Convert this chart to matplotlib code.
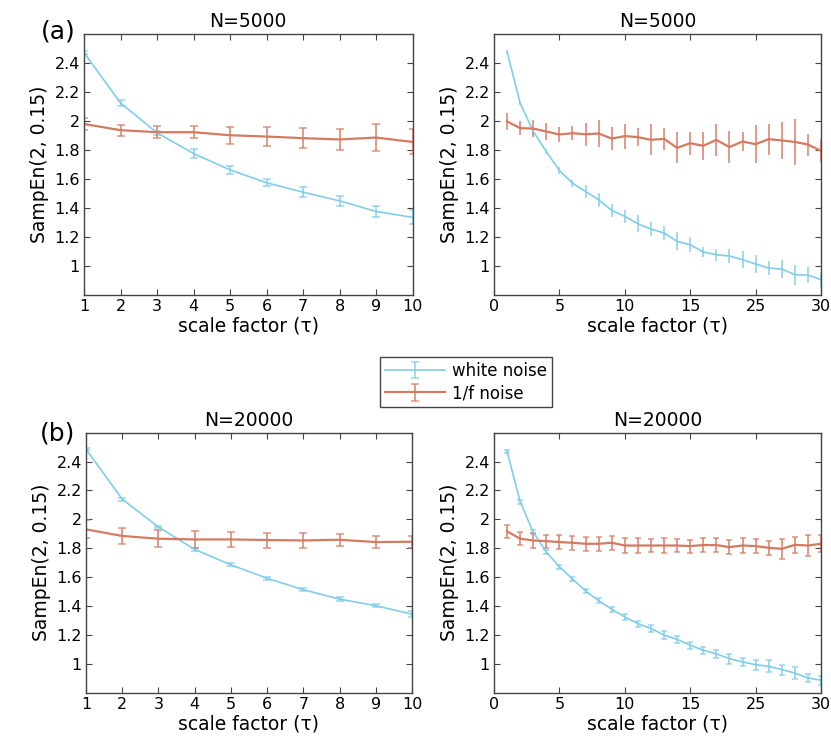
import matplotlib
matplotlib.use('Agg')
import matplotlib.pyplot as plt
import numpy as np

plt.rcParams['font.family'] = ['DejaVu Sans']

blue = '#80cdea'
red = '#d47a60'

# (a) N=5000, tau = 1..10
tau10 = np.arange(1, 11)
a_white_10 = [2.474, 2.126, 1.92, 1.777, 1.664, 1.575, 1.51, 1.45, 1.377, 1.336]
a_white_10_err = [0.01, 0.023, 0.015, 0.034, 0.026, 0.025, 0.034, 0.035, 0.038, 0.048]
a_pink_10 = [1.981, 1.938, 1.924, 1.924, 1.903, 1.894, 1.883, 1.874, 1.887, 1.857]
a_pink_10_err = [0.04, 0.037, 0.04, 0.04, 0.06, 0.064, 0.068, 0.074, 0.095, 0.086]

# (a) N=5000, tau = 1..25
tau25 = np.arange(1, 26)
a_white_25 = [2.48, 2.124, 1.93, 1.79, 1.66, 1.572, 1.515, 1.457, 1.384, 1.343,
              1.292, 1.255, 1.228, 1.17, 1.147, 1.097, 1.078, 1.069, 1.044, 1.014,
              0.986, 0.979, 0.94, 0.938, 0.906]
a_white_25_err = [0.01, 0.012, 0.015, 0.018, 0.025, 0.025, 0.042, 0.046, 0.046, 0.046,
                  0.06, 0.05, 0.048, 0.062, 0.053, 0.035, 0.043, 0.046, 0.06, 0.063,
                  0.046, 0.061, 0.069, 0.057, 0.05]
a_pink_25 = [1.998, 1.952, 1.949, 1.929, 1.908, 1.917, 1.91, 1.915, 1.88, 1.897,
             1.89, 1.871, 1.878, 1.816, 1.848, 1.83, 1.871, 1.821, 1.86, 1.841,
             1.876, 1.867, 1.857, 1.839, 1.795]
a_pink_25_err = [0.057, 0.046, 0.06, 0.062, 0.055, 0.05, 0.08, 0.094, 0.078, 0.087,
                 0.063, 0.107, 0.075, 0.106, 0.078, 0.098, 0.109, 0.109, 0.064, 0.133,
                 0.107, 0.128, 0.16, 0.076, 0.08]

# (b) N=20000, tau = 1..10
b_white_10 = [2.486, 2.14, 1.947, 1.792, 1.685, 1.592, 1.513, 1.448, 1.402, 1.344]
b_white_10_err = [0.008, 0.01, 0.01, 0.012, 0.01, 0.012, 0.012, 0.014, 0.012, 0.02]
b_pink_10 = [1.931, 1.885, 1.866, 1.861, 1.861, 1.857, 1.854, 1.859, 1.843, 1.845]
b_pink_10_err = [0.063, 0.058, 0.058, 0.058, 0.052, 0.052, 0.049, 0.043, 0.044, 0.04]

# (b) N=20000, tau = 1..25
b_white_25 = [2.47, 2.121, 1.912, 1.773, 1.673, 1.587, 1.505, 1.436, 1.378, 1.324,
              1.278, 1.245, 1.199, 1.169, 1.129, 1.094, 1.069, 1.036, 1.013, 0.994,
              0.983, 0.96, 0.936, 0.902, 0.886]
b_white_25_err = [0.008, 0.012, 0.012, 0.012, 0.014, 0.015, 0.015, 0.018, 0.018, 0.02,
                  0.02, 0.025, 0.025, 0.022, 0.025, 0.025, 0.028, 0.035, 0.03, 0.035,
                  0.04, 0.035, 0.04, 0.03, 0.03]
b_pink_25 = [1.917, 1.866, 1.854, 1.849, 1.843, 1.838, 1.831, 1.831, 1.838, 1.819,
             1.819, 1.819, 1.819, 1.819, 1.815, 1.822, 1.822, 1.808, 1.819, 1.815,
             1.803, 1.796, 1.824, 1.819, 1.831]
b_pink_25_err = [0.046, 0.046, 0.055, 0.045, 0.05, 0.05, 0.05, 0.05, 0.05, 0.05,
                 0.05, 0.045, 0.055, 0.048, 0.045, 0.05, 0.05, 0.05, 0.055, 0.05,
                 0.05, 0.07, 0.055, 0.07, 0.06]

yticks = [1, 1.2, 1.4, 1.6, 1.8, 2, 2.2, 2.4]
ytick_labels = ['1', '1.2', '1.4', '1.6', '1.8', '2', '2.2', '2.4']
xticks25 = [0, 5, 10, 15, 20, 25]
xtick_labels25 = ['0', '5', '10', '15', '25', '30']

fig = plt.figure(figsize=(8.31, 7.42), dpi=100)

W, H = 831, 742
def add_ax(l, r, t, b):
    return fig.add_axes([l / W, 1 - b / H, (r - l) / W, (b - t) / H])

ax_tl = add_ax(84, 412.5, 34.3, 295)
ax_tr = add_ax(494, 821, 34.3, 295)
ax_bl = add_ax(86, 412, 432.7, 692.7)
ax_br = add_ax(494, 821, 432.7, 692.7)


def draw(ax, x, w, we, p, pe, cap, title):
    hw = ax.errorbar(x, w, yerr=we, color=blue, ecolor=(0.5, 0.8, 0.92, 0.8),
                     lw=1.2, elinewidth=1.3, capsize=cap, capthick=1.1)
    hp = ax.errorbar(x, p, yerr=pe, color=red, ecolor=(0.83, 0.48, 0.38, 0.8),
                     lw=1.6, elinewidth=1.3, capsize=cap, capthick=1.1)
    ax.set_ylim(0.8, 2.6)
    ax.set_yticks(yticks)
    ax.set_yticklabels(ytick_labels)
    ax.set_title(title, fontsize=13.5, pad=5)
    ax.set_xlabel('scale factor (\u03c4)', fontsize=13.5, labelpad=2)
    ax.set_ylabel('SampEn(2, 0.15)', fontsize=13.5, labelpad=4)
    ax.tick_params(direction='in', top=True, right=True, length=4,
                   labelsize=11.5, color='#444444', pad=3)
    for s in ax.spines.values():
        s.set_color('#444444')
        s.set_linewidth(1.0)
    return hw, hp


hw, hp = draw(ax_tl, tau10, a_white_10, a_white_10_err, a_pink_10, a_pink_10_err, 3, 'N=5000')
ax_tl.set_xlim(1, 10)
ax_tl.set_xticks(tau10)

draw(ax_tr, tau25, a_white_25, a_white_25_err, a_pink_25, a_pink_25_err, 0, 'N=5000')
ax_tr.set_xlim(0, 25)
ax_tr.set_xticks(xticks25)
ax_tr.set_xticklabels(xtick_labels25)

draw(ax_bl, tau10, b_white_10, b_white_10_err, b_pink_10, b_pink_10_err, 3, 'N=20000')
ax_bl.set_xlim(1, 10)
ax_bl.set_xticks(tau10)

draw(ax_br, tau25, b_white_25, b_white_25_err, b_pink_25, b_pink_25_err, 2.5, 'N=20000')
ax_br.set_xlim(0, 25)
ax_br.set_xticks(xticks25)
ax_br.set_xticklabels(xtick_labels25)

fig.text(58 / W, 1 - 31 / H, '(a)', fontsize=18, ha='center', va='center')
fig.text(58 / W, 1 - 433 / H, '(b)', fontsize=18, ha='center', va='center')

leg = fig.legend([hw, hp], ['white noise', '1/f noise'], loc='center',
                 bbox_to_anchor=(466 / W, 1 - 382 / H), fontsize=12,
                 fancybox=False, edgecolor='#444444', framealpha=1,
                 handlelength=3.6, borderpad=0.3, labelspacing=0.25,
                 handletextpad=0.4)
leg.get_frame().set_linewidth(1.0)

fig.savefig('out.png', dpi=100)
